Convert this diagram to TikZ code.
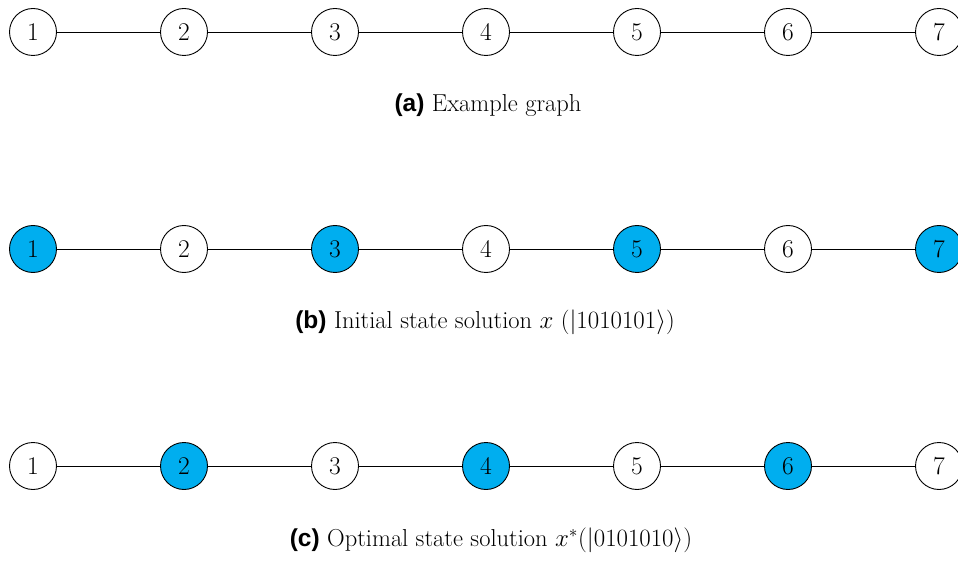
\documentclass[tikz,border=0pt]{standalone}
\usepackage{fontspec}
\newfontfamily\capsans{Liberation Sans}
\definecolor{selcyan}{HTML}{00AEEF}
\begin{document}
\begin{tikzpicture}[x=1pt,y=-1pt,
  vertex/.style={circle,draw=black,line width=0.9pt,minimum size=47pt,inner sep=0pt,
    font=\fontsize{25.5}{28}\selectfont},
  chosen/.style={vertex,fill=selcyan},
  free/.style={vertex,fill=white},
  edge/.style={line width=0.9pt},
  caption/.style={font=\fontsize{24.5}{29}\selectfont,inner sep=0pt}]
\useasboundingbox (0,0) rectangle (958,561);

% row (a): example graph
\foreach \i in {1,...,7}
  \node[free] (a\i) at ({33+151*(\i-1)},32) {\i};
\foreach \i [evaluate=\i as \j using int(\i+1)] in {1,...,6}
  \draw[edge] (a\i) -- (a\j);
\node[caption] (capa) at (488,105) {{\capsans\bfseries (a)} Example graph};

% row (b): initial state
\foreach \i/\s in {1/chosen,2/free,3/chosen,4/free,5/chosen,6/free,7/chosen}
  \node[\s] (b\i) at ({33+151*(\i-1)},249) {\i};
\foreach \i [evaluate=\i as \j using int(\i+1)] in {1,...,6}
  \draw[edge] (b\i) -- (b\j);
\node[caption] (capb) at (485,322) {{\capsans\bfseries (b)} Initial state solution $x$ ($|1010101\rangle$)};

% row (c): optimal state
\foreach \i/\s in {1/free,2/chosen,3/free,4/chosen,5/free,6/chosen,7/free}
  \node[\s] (c\i) at ({33+151*(\i-1)},466) {\i};
\foreach \i [evaluate=\i as \j using int(\i+1)] in {1,...,6}
  \draw[edge] (c\i) -- (c\j);
\node[caption] (capc) at (491,540) {{\capsans\bfseries (c)} Optimal state solution $x^{*}(|0101010\rangle)$};
\end{tikzpicture}
\end{document}
